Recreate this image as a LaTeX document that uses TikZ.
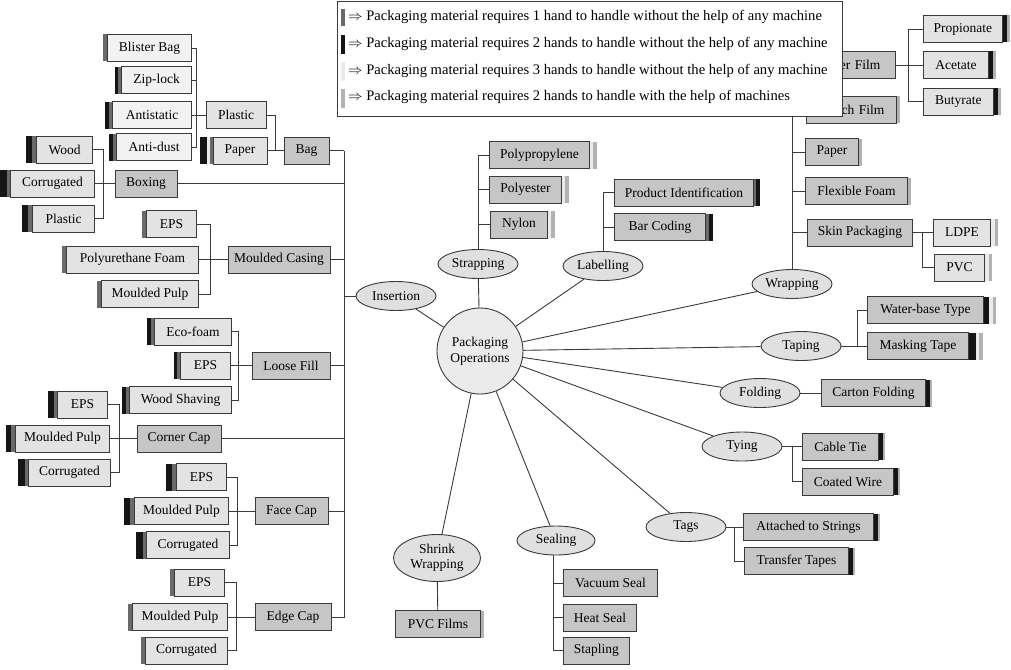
\documentclass[tikz,border=0pt]{standalone}
\usepackage{fontspec}
\setmainfont{Liberation Serif}
\usepackage{tikz}
\usetikzlibrary{shapes.geometric}
\definecolor{onehand}{HTML}{6A6A6A}
\definecolor{twohand}{HTML}{151515}
\definecolor{threehand}{HTML}{EBEBEB}
\definecolor{machine}{HTML}{B2B2B2}
\definecolor{linec}{HTML}{3A3A3A}
\definecolor{catfill}{HTML}{C6C6C6}
\definecolor{subfill}{HTML}{E3E3E3}
\definecolor{tipfill}{HTML}{F2F2F2}
\definecolor{opfill}{HTML}{E0E0E0}
\tikzset{
 box/.style={draw=linec, line width=0.9pt, minimum height=27pt, inner sep=0pt},
 cat/.style={box, fill=catfill},
 sub/.style={box, fill=subfill},
 tip/.style={box, fill=tipfill},
 op/.style={ellipse, draw=linec, line width=0.9pt, fill=opfill, minimum width=80pt, minimum height=29pt, inner sep=0pt},
 hbar/.style={inner sep=0pt, outer sep=0pt, minimum height=27pt},
 lbar/.style 2 args={label={[hbar, fill=#1, minimum width=#2]left:{}}},
 rbar/.style 2 args={label={[hbar, fill=#1, minimum width=#2]right:{}}},
 link/.style={draw=linec, line width=0.9pt},
 keyrow/.style={anchor=west, inner sep=0pt, font=\fontsize{14.6}{16.5}\selectfont}
}

\begin{document}
\begin{tikzpicture}[x=1pt, y=-1pt, font=\fontsize{13.5}{15.5}\selectfont]
 \useasboundingbox (0,0) rectangle (1011,669);
 \node (blister) [tip, lbar={onehand}{4pt}, minimum width=84pt, anchor=east] at (192,48) {Blister Bag};
 \node (ziplock) [tip, lbar={twohand}{6pt}, lbar={onehand}{3pt}, minimum width=70pt, anchor=east] at (192,80) {Zip-lock};
 \node (antistatic) [tip, lbar={twohand}{7pt}, lbar={onehand}{3pt}, minimum width=79pt, anchor=east] at (192,115) {Antistatic};
 \node (antidust) [tip, lbar={twohand}{7pt}, lbar={onehand}{3pt}, minimum width=75pt, anchor=east] at (192,147) {Anti-dust};
 \node (plastic) [sub, minimum width=60pt] at (236,115) {Plastic};
 \node (paper) [sub, lbar={twohand}{13pt}, lbar={threehand}{6pt}, lbar={onehand}{3pt}, minimum width=54pt] at (240,150.5) {Paper};
 \node (bag) [cat, minimum width=45pt] at (306.5,150.5) {Bag};
 \node (wood) [sub, lbar={twohand}{10pt}, lbar={onehand}{4pt}, minimum width=56pt, anchor=east] at (93,149.5) {Wood};
 \node (corr1) [sub, lbar={twohand}{10pt}, lbar={onehand}{3pt}, minimum width=84pt, anchor=east] at (95,183.5) {Corrugated};
 \node (plastic2) [sub, lbar={twohand}{10pt}, lbar={onehand}{4pt}, minimum width=62pt, anchor=east] at (95,218.5) {Plastic};
 \node (boxing) [cat, minimum width=62pt] at (146,183.5) {Boxing};
 \node (eps1) [sub, lbar={onehand}{4pt}, minimum width=50pt, anchor=east] at (197,224) {EPS};
 \node (puf) [sub, lbar={onehand}{4pt}, minimum width=132pt, anchor=east] at (199,259.5) {Polyurethane Foam};
 \node (mpulp1) [sub, lbar={onehand}{4pt}, minimum width=97pt, anchor=east] at (199,294) {Moulded Pulp};
 \node (mcasing) [cat, minimum width=102pt] at (279,259.5) {Moulded Casing};
 \node (ecofoam) [sub, lbar={twohand}{7pt}, lbar={onehand}{3pt}, minimum width=77pt, anchor=east] at (232,331.5) {Eco-foam};
 \node (eps2) [sub, lbar={twohand}{6pt}, lbar={onehand}{3pt}, minimum width=50pt, anchor=east] at (231,365.5) {EPS};
 \node (woodsh) [sub, lbar={twohand}{7pt}, lbar={onehand}{3pt}, minimum width=102pt, anchor=east] at (232,400) {Wood Shaving};
 \node (loosefill) [cat, minimum width=78pt] at (291,365.5) {Loose Fill};
 \node (eps3) [sub, lbar={twohand}{9pt}, lbar={onehand}{3pt}, minimum width=50pt, anchor=east] at (108,404.5) {EPS};
 \node (mpulp2) [sub, lbar={twohand}{9pt}, lbar={onehand}{4pt}, minimum width=94pt, anchor=east] at (110,438.5) {Moulded Pulp};
 \node (corr2) [sub, lbar={twohand}{10pt}, lbar={onehand}{3pt}, minimum width=82pt, anchor=east] at (111,472.5) {Corrugated};
 \node (cornercap) [cat, minimum width=84pt] at (179,438.5) {Corner Cap};
 \node (eps4) [sub, lbar={twohand}{10pt}, lbar={onehand}{4pt}, minimum width=50pt, anchor=east] at (227,477) {EPS};
 \node (mpulp3) [sub, lbar={twohand}{10pt}, lbar={onehand}{4pt}, minimum width=94pt, anchor=east] at (229,511) {Moulded Pulp};
 \node (corr3) [sub, lbar={twohand}{10pt}, lbar={onehand}{3pt}, minimum width=83pt, anchor=east] at (230,545) {Corrugated};
 \node (facecap) [cat, minimum width=73pt] at (291.5,511) {Face Cap};
 \node (eps5) [sub, lbar={onehand}{4pt}, minimum width=50pt, anchor=east] at (225,582.5) {EPS};
 \node (mpulp4) [sub, lbar={onehand}{4pt}, minimum width=95pt, anchor=east] at (228,617) {Moulded Pulp};
 \node (corr4) [sub, lbar={onehand}{4pt}, minimum width=82pt, anchor=east] at (228,650.5) {Corrugated};
 \node (edgecap) [cat, minimum width=76pt] at (293,617) {Edge Cap};
 \node (insertion) [op] at (396,296) {Insertion};
 \node (pkg) [circle, draw=linec, line width=0.9pt, fill=threehand, minimum size=86pt, inner sep=0pt, align=center] at (480,351) {Packaging\\Operations};
 \node (strapping) [op] at (478,264) {Strapping};
 \node (pp) [cat, rbar={machine}{7pt}, rbar={threehand}{3.5pt}, minimum width=100pt, anchor=west] at (489,155) {Polypropylene};
 \node (pe) [cat, rbar={machine}{7pt}, rbar={threehand}{3.5pt}, minimum width=72pt, anchor=west] at (489,189.5) {Polyester};
 \node (ny) [cat, rbar={machine}{7pt}, rbar={threehand}{3.5pt}, minimum width=57pt, anchor=west] at (490,224.5) {Nylon};
 \node (labelling) [op] at (603,266) {Labelling};
 \node (prodid) [cat, rbar={twohand}{6pt}, rbar={onehand}{2.5pt}, minimum width=139pt, anchor=west] at (614,192.5) {Product Identification};
 \node (barcode) [cat, rbar={twohand}{7pt}, rbar={onehand}{3pt}, minimum width=91pt, anchor=west] at (614,227) {Bar Coding};
 \node (wrapping) [op] at (792,284) {Wrapping};
 \node (erfilm) [cat, minimum width=90pt, text width=60pt, align=right, anchor=west] at (805,65) {er Film};
 \node (chfilm) [cat, rbar={machine}{3pt}, minimum width=90pt, text width=66pt, align=right, anchor=west] at (806,109.5) {ch Film};
 \node (paper2) [cat, rbar={machine}{3pt}, minimum width=53pt, anchor=west] at (805,152) {Paper};
 \node (flexfoam) [cat, rbar={machine}{3pt}, minimum width=102pt, anchor=west] at (805,191) {Flexible Foam};
 \node (skin) [cat, minimum width=105pt, anchor=west] at (807,232.5) {Skin Packaging};
 \node (ldpe) [sub, rbar={machine}{7pt}, rbar={threehand}{4pt}, minimum width=57pt, anchor=west] at (933,232.5) {LDPE};
 \node (pvc) [sub, rbar={machine}{7pt}, rbar={threehand}{4pt}, minimum width=50pt, anchor=west] at (934,267.5) {PVC};
 \node (propionate) [sub, rbar={machine}{7pt}, rbar={twohand}{4pt}, minimum width=79pt, anchor=west] at (923,29) {Propionate};
 \node (acetate) [sub, rbar={machine}{7pt}, rbar={twohand}{4pt}, minimum width=65pt, anchor=west] at (923,65) {Acetate};
 \node (butyrate) [sub, rbar={machine}{7pt}, rbar={twohand}{4pt}, minimum width=70pt, anchor=west] at (923,101.5) {Butyrate};
 \node (taping) [op] at (801,346) {Taping};
 \node (waterbase) [cat, rbar={machine}{12pt}, rbar={threehand}{9pt}, rbar={twohand}{5pt}, minimum width=116pt, anchor=west] at (867,310) {Water-base Type};
 \node (masking) [cat, rbar={machine}{14pt}, rbar={threehand}{10pt}, rbar={twohand}{7pt}, minimum width=101pt, anchor=west] at (867,346) {Masking Tape};
 \node (folding) [op] at (760,393) {Folding};
 \node (carton) [cat, rbar={machine}{6pt}, rbar={twohand}{4pt}, minimum width=104pt, anchor=west] at (821,393) {Carton Folding};
 \node (tying) [op] at (742,446.5) {Tying};
 \node (cabletie) [cat, rbar={machine}{6pt}, rbar={twohand}{4pt}, minimum width=76pt, anchor=west] at (802,446.5) {Cable Tie};
 \node (coated) [cat, rbar={machine}{6pt}, rbar={twohand}{4pt}, minimum width=91pt, anchor=west] at (802,481.5) {Coated Wire};
 \node (tags) [op] at (686,527) {Tags};
 \node (attached) [cat, rbar={machine}{6pt}, rbar={twohand}{4pt}, minimum width=130pt, anchor=west] at (743,527) {Attached to Strings};
 \node (transfer) [cat, rbar={machine}{6pt}, rbar={twohand}{4pt}, minimum width=104pt, anchor=west] at (744,561) {Transfer Tapes};
 \node (shrink) [op, minimum width=87pt, minimum height=47pt, align=center] at (437,558) {Shrink\\Wrapping};
 \node (pvcfilms) [cat, rbar={machine}{3pt}, minimum width=85pt, anchor=west] at (395,624) {PVC Films};
 \node (sealing) [op, minimum width=78pt] at (556,540.5) {Sealing};
 \node (vacuum) [cat, minimum width=94pt, anchor=west] at (563,583) {Vacuum Seal};
 \node (heat) [cat, minimum width=73pt, anchor=west] at (563,617.5) {Heat Seal};
 \node (stapling) [cat, minimum width=66pt, anchor=west] at (563,650.5) {Stapling};
 \coordinate (plj) at ([xshift=-9pt]plastic.west);
 \coordinate (bagj) at ([xshift=-8pt]bag.west);
 \coordinate (trunk) at ([xshift=15pt]bag.east);
 \coordinate (boxj) at ([xshift=-11pt]boxing.west);
 \coordinate (mcj) at ([xshift=-17pt]mcasing.west);
 \coordinate (lfj) at ([xshift=-13pt]loosefill.west);
 \coordinate (ccj) at ([xshift=-17pt]cornercap.west);
 \coordinate (fcj) at ([xshift=-17pt]facecap.west);
 \coordinate (ecj) at ([xshift=-18pt]edgecap.west);
 \coordinate (skj) at ([xshift=10pt]skin.east);
 \coordinate (fj) at ([xshift=13pt]erfilm.east);
 \coordinate (tj) at ([xshift=16pt]taping.east);
 \coordinate (tyj) at ([xshift=10pt]tying.east);
 \coordinate (tgj) at ([xshift=8pt]tags.east);
 \coordinate (sj) at ([xshift=-3pt]sealing.south);
 \draw [link] (blister.east) -| (plj);
 \draw [link] (ziplock.east) -| (plj);
 \draw [link] (antidust.east) -| (plj);
 \draw [link] (antistatic.east) -- (plastic.west);
 \draw [link] (plastic.east) -| (bagj);
 \draw [link] (paper.east) -- (bag.west);
 \draw [link] (bag.east) -- (trunk);
 \draw [link] (wood.east) -| (boxj);
 \draw [link] (plastic2.east) -| (boxj);
 \draw [link] (corr1.east) -- (boxing.west);
 \draw [link] (boxing.east) -| (trunk);
 \draw [link] (eps1.east) -| (mcj);
 \draw [link] (mpulp1.east) -| (mcj);
 \draw [link] (puf.east) -- (mcasing.west);
 \draw [link] (mcasing.east) -| (trunk);
 \draw [link] (ecofoam.east) -| (lfj);
 \draw [link] (woodsh.east) -| (lfj);
 \draw [link] (eps2.east) -- (loosefill.west);
 \draw [link] (loosefill.east) -| (trunk);
 \draw [link] (eps3.east) -| (ccj);
 \draw [link] (corr2.east) -| (ccj);
 \draw [link] (mpulp2.east) -- (cornercap.west);
 \draw [link] (cornercap.east) -| (trunk);
 \draw [link] (eps4.east) -| (fcj);
 \draw [link] (corr3.east) -| (fcj);
 \draw [link] (mpulp3.east) -- (facecap.west);
 \draw [link] (facecap.east) -| (trunk);
 \draw [link] (eps5.east) -| (ecj);
 \draw [link] (corr4.east) -| (ecj);
 \draw [link] (mpulp4.east) -- (edgecap.west);
 \draw [link] (edgecap.east) -| (trunk);
 \draw [link] (insertion.west) -| (trunk);
 \draw [link] (pkg) -- (insertion);
 \draw [link] (pkg) -- (strapping);
 \draw [link] (pkg) -- (labelling);
 \draw [link] (pkg) -- (wrapping);
 \draw [link] (pkg) -- (taping);
 \draw [link] (pkg) -- (folding);
 \draw [link] (pkg) -- (tying);
 \draw [link] (pkg) -- (tags);
 \draw [link] (pkg) -- (sealing);
 \draw [link] (pkg) -- (shrink);
 \draw [link] (strapping.north) |- (pp.west);
 \draw [link] (strapping.north) |- (pe.west);
 \draw [link] (strapping.north) |- (ny.west);
 \draw [link] (labelling.north) |- (prodid.west);
 \draw [link] (labelling.north) |- (barcode.west);
 \draw [link] (wrapping.north) |- (erfilm.west);
 \draw [link] (wrapping.north) |- (chfilm.west);
 \draw [link] (wrapping.north) |- (paper2.west);
 \draw [link] (wrapping.north) |- (flexfoam.west);
 \draw [link] (wrapping.north) |- (skin.west);
 \draw [link] (skin.east) -- (ldpe.west);
 \draw [link] (skj) |- (pvc.west);
 \draw [link] (erfilm.east) -- (acetate.west);
 \draw [link] (fj) |- (propionate.west);
 \draw [link] (fj) |- (butyrate.west);
 \draw [link] (taping.east) -- (masking.west);
 \draw [link] (tj) |- (waterbase.west);
 \draw [link] (folding) -- (carton);
 \draw [link] (tying.east) -- (cabletie.west);
 \draw [link] (tyj) |- (coated.west);
 \draw [link] (tags.east) -- (attached.west);
 \draw [link] (tgj) |- (transfer.west);
 \draw [link] (shrink) -- (pvcfilms);
 \draw [link] (sj) |- (vacuum.west);
 \draw [link] (sj) |- (heat.west);
 \draw [link] (sj) |- (stapling.west);
 \node (legend) [draw=linec, line width=0.9pt, fill=white, minimum width=505pt, minimum height=115pt, inner sep=0pt, anchor=north west] at (337,1) {};
 \node (row1) [keyrow] at (348,17) {$\Rightarrow$ Packaging material requires 1 hand to handle without the help of any machine};
 \node (row2) [keyrow] at (348,44) {$\Rightarrow$ Packaging material requires 2 hands to handle without the help of any machine};
 \node (row3) [keyrow] at (348,71) {$\Rightarrow$ Packaging material requires 3 hands to handle without the help of any machine};
 \node (row4) [keyrow] at (348,97) {$\Rightarrow$ Packaging material requires 2 hands to handle with the help of machines};
 \fill [onehand] (341,9) rectangle (345,26);
 \fill [twohand] (341,35) rectangle (345,54);
 \fill [threehand] (341,62) rectangle (345,81);
 \fill [machine] (341,89) rectangle (345,108);
\end{tikzpicture}
\end{document}
